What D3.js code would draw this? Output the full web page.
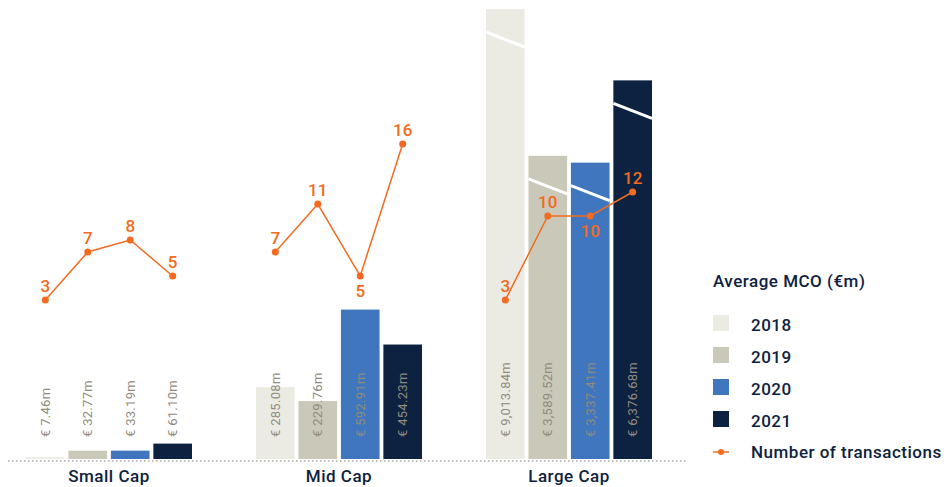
<!DOCTYPE html>
<html>
<head>
<meta charset="utf-8">
<script src="https://cdn.jsdelivr.net/npm/d3@7"></script>
<style>
  body { margin: 0; background: #fff; }
  svg { display: block; font-family: Roboto, "Noto Sans", sans-serif; }
</style>
</head>
<body>
<svg id="chart" width="946" height="487"></svg>
<script>
const groups = ["Small Cap", "Mid Cap", "Large Cap"];
const years = ["2018", "2019", "2020", "2021"];
const smallCap = [7.46, 32.77, 33.19, 61.10];
const midCap = [285.08, 229.76, 592.91, 454.23];
const largeCap = [9013.84, 3589.52, 3337.41, 6376.68];
const smallCount = [3, 7, 8, 5];
const midCount = [7, 11, 5, 16];
const largeCount = [3, 10, 10, 12];
// which count labels sit under their point
const smallBelow = [false, false, false, false];
const midBelow = [false, false, true, false];
const largeBelow = [false, false, true, false];

const colors = { "2018": "#ebebe4", "2019": "#cac8b8", "2020": "#3f76bd", "2021": "#0c2240" };
const orange = "#f26b21";
const navy = "#0e2240";

const svg = d3.select("#chart");

const x0 = d3.scaleBand().domain(groups).range([-6, 684]);
const x1 = d3.scaleBand().domain(years).range([0, 166]).paddingInner(0.09);
const base = 459;

// small & mid share a scale, large cap uses a broken axis
const yVal = d3.scaleLinear().domain([0, 1000]).range([base, 207]);
const yLarge = d3.scaleLinear().domain([0, 9013.84]).range([253, 9]);
const yCount = d3.scaleLinear().domain([0, 16]).range([336, 144]);

const data = [
  { name: "Small Cap", vals: smallCap, counts: smallCount, below: smallBelow, y: yVal, broken: false },
  { name: "Mid Cap", vals: midCap, counts: midCount, below: midBelow, y: yVal, broken: false },
  { name: "Large Cap", vals: largeCap, counts: largeCount, below: largeBelow, y: yLarge, broken: true }
];

const bx = (g, yr) => x0(g) + x0.bandwidth() / 2 - 83 + x1(yr);
const cx = (g, yr) => bx(g, yr) + x1.bandwidth() / 2;

// dotted baseline
svg.append("line")
  .attr("x1", 8).attr("x2", 686)
  .attr("y1", base + 2).attr("y2", base + 2)
  .attr("stroke", "#a8a8a8")
  .attr("stroke-width", 1.5)
  .attr("stroke-dasharray", "1.5,2.5");

data.forEach(g => {
  const grp = svg.append("g");
  years.forEach((yr, i) => {
    const top = g.y(g.vals[i]);
    grp.append("rect")
      .attr("x", bx(g.name, yr))
      .attr("y", top)
      .attr("width", x1.bandwidth())
      .attr("height", base - top)
      .attr("fill", colors[yr]);
    if (g.broken) {
      grp.append("line")
        .attr("x1", bx(g.name, yr)).attr("x2", bx(g.name, yr) + x1.bandwidth())
        .attr("y1", top + 23).attr("y2", top + 38)
        .attr("stroke", "#fff").attr("stroke-width", 3);
    }
    const lx = cx(g.name, yr), ly = 437;
    grp.append("text")
      .attr("transform", `translate(${lx},${ly}) rotate(-90)`)
      .attr("dy", "0.35em")
      .attr("font-size", 13)
      .attr("letter-spacing", 0.3)
      .attr("fill", "#918b7e")
      .text("€ " + d3.format(",.2f")(g.vals[i]) + "m");
  });

  // transactions line
  const line = d3.line()
    .x((d, i) => cx(g.name, years[i]))
    .y(d => yCount(d));
  grp.append("path")
    .datum(g.counts)
    .attr("d", line)
    .attr("fill", "none")
    .attr("stroke", orange)
    .attr("stroke-width", 1.5);
  g.counts.forEach((c, i) => {
    const px = cx(g.name, years[i]), py = yCount(c);
    grp.append("circle").attr("cx", px).attr("cy", py).attr("r", 3.5).attr("fill", orange);
    grp.append("text")
      .attr("x", px)
      .attr("y", g.below[i] ? py + 21 : py - 8)
      .attr("text-anchor", "middle")
      .attr("font-size", 17)
      .attr("font-weight", 500)
      .attr("fill", orange)
      .text(c);
  });

  svg.append("text")
    .attr("x", x0(g.name) + x0.bandwidth() / 2)
    .attr("y", 482)
    .attr("text-anchor", "middle")
    .attr("font-size", 17)
    .attr("font-weight", 500)
    .attr("letter-spacing", 0.5)
    .attr("fill", navy)
    .text(g.name);
});

// legend
const leg = svg.append("g")
  .attr("transform", "translate(713,0)")
  .attr("font-size", 17)
  .attr("font-weight", 500)
  .attr("letter-spacing", 0.5)
  .attr("fill", navy);
leg.append("text")
  .attr("x", 0).attr("y", 287)
  .text("Average MCO (€m)");
years.forEach((yr, i) => {
  const y = 315 + i * 32;
  leg.append("rect").attr("x", 0).attr("y", y).attr("width", 16).attr("height", 16).attr("fill", colors[yr]);
  leg.append("text")
    .attr("x", 38).attr("y", y + 16)
    .text(yr);
});
leg.append("line").attr("x1", 0).attr("x2", 16).attr("y1", 452).attr("y2", 452)
  .attr("stroke", orange).attr("stroke-width", 1.5);
leg.append("circle").attr("cx", 8).attr("cy", 452).attr("r", 3).attr("fill", orange);
leg.append("text")
  .attr("x", 38).attr("y", 458)
  .text("Number of transactions");
</script>
</body>
</html>
